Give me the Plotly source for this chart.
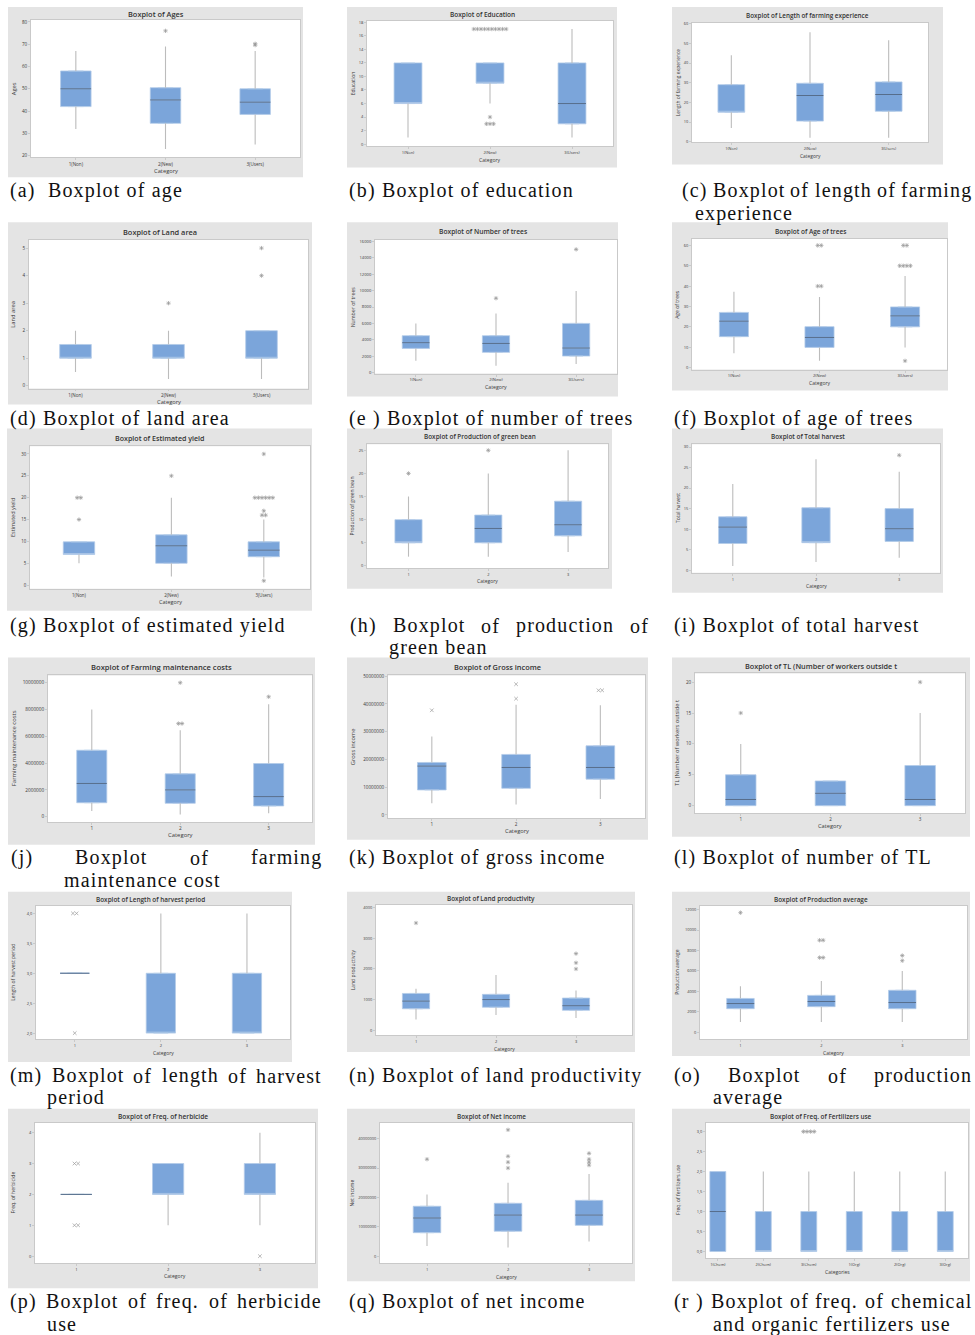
import plotly.graph_objects as go

W, H = 975, 1335

# ---------------- categories ----------------
cats_nnu = ["1(Non)", "2(New)", "3(Users)"]
cats_123 = ["1", "2", "3"]
cats_fert = ["1(Chem)", "2(Chem)", "3(Chem)", "1(Org)", "2(Org)", "3(Org)"]

# ---------------- data ----------------
# (a) Ages
age_low = [32, 23, 25]
age_q1 = [42, 34.5, 38.5]
age_med = [50, 45, 44]
age_q3 = [58, 50.5, 50]
age_high = [67, 69, 67]
age_out_cat = [2, 3, 3]
age_out_val = [76, 69.6, 70.2]
age_out_n = [1, 1, 1]
age_yticks = [20, 30, 40, 50, 60, 70, 80]

# (b) Education
edu_low = [1, 6, 1]
edu_q1 = [6, 9, 3]
edu_med = [None, None, 6]
edu_q3 = [12, 12, 12]
edu_high = [12, 12, 17]
edu_out_cat = [2, 2, 2]
edu_out_val = [17, 4, 3]
edu_out_n = [10, 1, 3]
edu_yticks = [0, 2, 4, 6, 8, 10, 12, 14, 16, 18]

# (c) Length of farming experience
exp_low = [7, 2, 2]
exp_q1 = [15, 10.5, 15.5]
exp_med = [None, 23.5, 24]
exp_q3 = [29, 29.7, 30.4]
exp_high = [44, 55.6, 51.6]
exp_out_cat = []
exp_out_val = []
exp_out_n = []
exp_yticks = [0, 10, 20, 30, 40, 50, 60]

# (d) Land area
land_low = [0.5, 0.25, 0.25]
land_q1 = [1, 1, 1]
land_med = [None, None, None]
land_q3 = [1.5, 1.5, 2]
land_high = [2, 2, 2]
land_out_cat = [2, 3, 3]
land_out_val = [3, 4, 5]
land_out_n = [1, 1, 1]
land_yticks = [0, 1, 2, 3, 4, 5]

# (e) Number of trees
tree_low = [1450, 850, 1050]
tree_q1 = [2950, 2470, 2020]
tree_med = [3650, 3560, 3000]
tree_q3 = [4500, 4500, 6000]
tree_high = [6000, 7200, 9960]
tree_out_cat = [2, 3]
tree_out_val = [9070, 15030]
tree_out_n = [1, 1]
tree_yticks = [0, 2000, 4000, 6000, 8000, 10000, 12000, 14000, 16000]

# (f) Age of trees
agt_low = [7, 3.4, 9.9]
agt_q1 = [15.2, 9.9, 20]
agt_med = [22.8, 14.8, 25.4]
agt_q3 = [27.1, 20.1, 29.8]
agt_high = [37.2, 34.7, 45]
agt_out_cat = [2, 2, 3, 3, 3]
agt_out_val = [40, 60, 50, 60, 3.3]
agt_out_n = [2, 2, 4, 2, 1]
agt_yticks = [0, 10, 20, 30, 40, 50, 60]

# (g) Estimated yield
yld_low = [5, 2, 1.75]
yld_q1 = [7, 5, 6.5]
yld_med = [None, 9, 8]
yld_q3 = [9.9, 11.5, 9.9]
yld_high = [7, 20, 15]
yld_out_cat = [1, 1, 2, 3, 3, 3, 3, 3]
yld_out_val = [15, 20, 25, 1, 16, 17, 20, 30]
yld_out_n = [1, 2, 1, 1, 2, 1, 6, 1]
yld_yticks = [0, 5, 10, 15, 20, 25, 30]

# (h) Production of green bean
gb_low = [2, 2, 3]
gb_q1 = [5, 5, 6.5]
gb_med = [None, 8.1, 8.9]
gb_q3 = [10, 11, 14]
gb_high = [15, 20, 25]
gb_out_cat = [1, 2]
gb_out_val = [20, 25]
gb_out_n = [1, 1]
gb_yticks = [0, 5, 10, 15, 20, 25]

# (i) Total harvest
th_low = [1, 2, 3]
th_q1 = [6.5, 6.7, 7]
th_med = [10.5, None, 10.1]
th_q3 = [13, 15.2, 15]
th_high = [21, 27, 24]
th_out_cat = [3]
th_out_val = [28]
th_out_n = [1]
th_yticks = [0, 5, 10, 15, 20, 25, 30]

# (j) Farming maintenance costs
fmc_low = [420000, 170000, 250000]
fmc_q1 = [1040000, 1000000, 800000]
fmc_med = [2480000, 2000000, 1500000]
fmc_q3 = [4960000, 3200000, 3970000]
fmc_high = [8000000, 6450000, 8400000]
fmc_out_cat = [2, 2, 3]
fmc_out_val = [10000000, 6950000, 8950000]
fmc_out_n = [1, 2, 1]
fmc_yticks = [0, 2000000, 4000000, 6000000, 8000000, 10000000]

# (k) Gross income
gi_low = [4200000, 3800000, 5700000]
gi_q1 = [9000000, 9600000, 12900000]
gi_med = [17600000, 17100000, 17100000]
gi_q3 = [18900000, 21800000, 24900000]
gi_high = [28300000, 39700000, 39500000]
gi_out_cat = [1, 2, 2, 3]
gi_out_val = [37700000, 41900000, 47100000, 44900000]
gi_out_n = [1, 1, 1, 2]
gi_yticks = [0, 10000000, 20000000, 30000000, 40000000, 50000000]

# (l) TL (number of workers outside)
tl_low = [0, 0, 0]
tl_q1 = [0, 0, 0]
tl_med = [1, 2, 1]
tl_q3 = [5, 4, 6.5]
tl_high = [10, 4, 15]
tl_out_cat = [1, 3]
tl_out_val = [15, 20]
tl_out_n = [1, 1]
tl_yticks = [0, 5, 10, 15, 20]

# (m) Length of harvest period
hp_low = [3, 2, 2]
hp_q1 = [3, 2, 2]
hp_med = [3, None, None]
hp_q3 = [3, 3, 3]
hp_high = [3, 4, 4]
hp_out_cat = [1, 1]
hp_out_val = [4, 2]
hp_out_n = [2, 1]
hp_yticks = [2.0, 2.5, 3.0, 3.5, 4.0]
hp_yticklabels = ["2,0", "2,5", "3,0", "3,5", "4,0"]

# (n) Land productivity
lp_low = [350, 500, 400]
lp_q1 = [700, 750, 650]
lp_med = [950, 1000, 800]
lp_q3 = [1200, 1170, 1050]
lp_high = [1350, 1800, 1300]
lp_out_cat = [1, 3, 3, 3]
lp_out_val = [3500, 2000, 2200, 2500]
lp_out_n = [1, 1, 1, 1]
lp_yticks = [0, 1000, 2000, 3000, 4000]

# (o) Production average
pa_low = [1000, 1000, 1000]
pa_q1 = [2300, 2500, 2300]
pa_med = [2800, 3000, 2900]
pa_q3 = [3300, 3600, 4100]
pa_high = [4500, 5000, 6000]
pa_out_cat = [1, 2, 2, 3, 3]
pa_out_val = [11700, 7300, 9000, 7000, 7500]
pa_out_n = [1, 2, 2, 1, 1]
pa_yticks = [0, 2000, 4000, 6000, 8000, 10000, 12000]

# (p) Freq. of herbicide
hb_low = [2, 1, 1]
hb_q1 = [2, 2, 2]
hb_med = [2, None, None]
hb_q3 = [2, 3, 3]
hb_high = [2, 3, 4]
hb_out_cat = [1, 1, 3]
hb_out_val = [3, 1, 0]
hb_out_n = [2, 2, 1]
hb_yticks = [0, 1, 2, 3, 4]

# (q) Net income
ni_low = [3500000, 3000000, 5000000]
ni_q1 = [8000000, 8500000, 10500000]
ni_med = [13000000, 14000000, 14000000]
ni_q3 = [17000000, 18000000, 19000000]
ni_high = [21000000, 25000000, 28000000]
ni_out_cat = [1, 2, 2, 2, 2, 3, 3, 3, 3]
ni_out_val = [33000000, 30000000, 32000000, 34000000, 43000000, 31000000, 32000000, 33000000, 35000000]
ni_out_n = [1, 1, 1, 1, 1, 1, 1, 1, 1]
ni_yticks = [0, 10000000, 20000000, 30000000, 40000000]

# (r) Freq. of chemical and organic fertilizers use
fz_low = [0, 0, 0, 0, 0, 0]
fz_q1 = [0, 0, 0, 0, 0, 0]
fz_med = [1, None, None, None, None, None]
fz_q3 = [2, 1, 1, 1, 1, 1]
fz_high = [2, 2, 2, 2, 2, 2]
fz_out_cat = [3]
fz_out_val = [3]
fz_out_n = [4]
fz_yticks = [0, 0.5, 1.0, 1.5, 2.0, 2.5, 3.0]
fz_yticklabels = ["0,0", "0,5", "1,0", "1,5", "2,0", "2,5", "3,0"]

# ---------------- panel text ----------------
panels = [
    dict(key="a", title="Boxplot of Ages", ytitle="Ages", xtitle="Category", cats=cats_nnu,
         low=age_low, q1=age_q1, med=age_med, q3=age_q3, high=age_high,
         oc=age_out_cat, ov=age_out_val, on=age_out_n, yt=age_yticks, ytl=None, sym="asterisk-open"),
    dict(key="b", title="Boxplot of Education", ytitle="Education", xtitle="Category", cats=cats_nnu,
         low=edu_low, q1=edu_q1, med=edu_med, q3=edu_q3, high=edu_high,
         oc=edu_out_cat, ov=edu_out_val, on=edu_out_n, yt=edu_yticks, ytl=None, sym="asterisk-open"),
    dict(key="c", title="Boxplot of Length of farming experience", ytitle="Length of farming experience",
         xtitle="Category", cats=cats_nnu,
         low=exp_low, q1=exp_q1, med=exp_med, q3=exp_q3, high=exp_high,
         oc=exp_out_cat, ov=exp_out_val, on=exp_out_n, yt=exp_yticks, ytl=None, sym="asterisk-open"),
    dict(key="d", title="Boxplot of Land area", ytitle="Land area", xtitle="Category", cats=cats_nnu,
         low=land_low, q1=land_q1, med=land_med, q3=land_q3, high=land_high,
         oc=land_out_cat, ov=land_out_val, on=land_out_n, yt=land_yticks, ytl=None, sym="asterisk-open"),
    dict(key="e", title="Boxplot of Number of trees", ytitle="Number of trees", xtitle="Category", cats=cats_nnu,
         low=tree_low, q1=tree_q1, med=tree_med, q3=tree_q3, high=tree_high,
         oc=tree_out_cat, ov=tree_out_val, on=tree_out_n, yt=tree_yticks, ytl=None, sym="asterisk-open"),
    dict(key="f", title="Boxplot of Age of trees", ytitle="Age of trees", xtitle="Category", cats=cats_nnu,
         low=agt_low, q1=agt_q1, med=agt_med, q3=agt_q3, high=agt_high,
         oc=agt_out_cat, ov=agt_out_val, on=agt_out_n, yt=agt_yticks, ytl=None, sym="asterisk-open"),
    dict(key="g", title="Boxplot of Estimated yield", ytitle="Estimated yield", xtitle="Category", cats=cats_nnu,
         low=yld_low, q1=yld_q1, med=yld_med, q3=yld_q3, high=yld_high,
         oc=yld_out_cat, ov=yld_out_val, on=yld_out_n, yt=yld_yticks, ytl=None, sym="asterisk-open"),
    dict(key="h", title="Boxplot of Production of green bean", ytitle="Production of green bean",
         xtitle="Category", cats=cats_123,
         low=gb_low, q1=gb_q1, med=gb_med, q3=gb_q3, high=gb_high,
         oc=gb_out_cat, ov=gb_out_val, on=gb_out_n, yt=gb_yticks, ytl=None, sym="asterisk-open"),
    dict(key="i", title="Boxplot of Total harvest", ytitle="Total harvest", xtitle="Category", cats=cats_123,
         low=th_low, q1=th_q1, med=th_med, q3=th_q3, high=th_high,
         oc=th_out_cat, ov=th_out_val, on=th_out_n, yt=th_yticks, ytl=None, sym="asterisk-open"),
    dict(key="j", title="Boxplot of Farming maintenance costs", ytitle="Farming maintenance costs",
         xtitle="Category", cats=cats_123,
         low=fmc_low, q1=fmc_q1, med=fmc_med, q3=fmc_q3, high=fmc_high,
         oc=fmc_out_cat, ov=fmc_out_val, on=fmc_out_n, yt=fmc_yticks, ytl=None, sym="asterisk-open"),
    dict(key="k", title="Boxplot of Gross income", ytitle="Gross income", xtitle="Category", cats=cats_123,
         low=gi_low, q1=gi_q1, med=gi_med, q3=gi_q3, high=gi_high,
         oc=gi_out_cat, ov=gi_out_val, on=gi_out_n, yt=gi_yticks, ytl=None, sym="x-thin-open"),
    dict(key="l", title="Boxplot of TL (Number of workers outside t", ytitle="TL (Number of workers outside t",
         xtitle="Category", cats=cats_123,
         low=tl_low, q1=tl_q1, med=tl_med, q3=tl_q3, high=tl_high,
         oc=tl_out_cat, ov=tl_out_val, on=tl_out_n, yt=tl_yticks, ytl=None, sym="asterisk-open"),
    dict(key="m", title="Boxplot of Length of harvest period", ytitle="Length of harvest period",
         xtitle="Category", cats=cats_123,
         low=hp_low, q1=hp_q1, med=hp_med, q3=hp_q3, high=hp_high,
         oc=hp_out_cat, ov=hp_out_val, on=hp_out_n, yt=hp_yticks, ytl=hp_yticklabels, sym="x-thin-open"),
    dict(key="n", title="Boxplot of Land productivity", ytitle="Land productivity", xtitle="Category", cats=cats_123,
         low=lp_low, q1=lp_q1, med=lp_med, q3=lp_q3, high=lp_high,
         oc=lp_out_cat, ov=lp_out_val, on=lp_out_n, yt=lp_yticks, ytl=None, sym="asterisk-open"),
    dict(key="o", title="Boxplot of Production average", ytitle="Production average", xtitle="Category",
         cats=cats_123,
         low=pa_low, q1=pa_q1, med=pa_med, q3=pa_q3, high=pa_high,
         oc=pa_out_cat, ov=pa_out_val, on=pa_out_n, yt=pa_yticks, ytl=None, sym="asterisk-open"),
    dict(key="p", title="Boxplot of Freq. of herbicide", ytitle="Freq. of herbicide", xtitle="Category",
         cats=cats_123,
         low=hb_low, q1=hb_q1, med=hb_med, q3=hb_q3, high=hb_high,
         oc=hb_out_cat, ov=hb_out_val, on=hb_out_n, yt=hb_yticks, ytl=None, sym="x-thin-open"),
    dict(key="q", title="Boxplot of Net income", ytitle="Net income", xtitle="Category", cats=cats_123,
         low=ni_low, q1=ni_q1, med=ni_med, q3=ni_q3, high=ni_high,
         oc=ni_out_cat, ov=ni_out_val, on=ni_out_n, yt=ni_yticks, ytl=None, sym="asterisk-open"),
    dict(key="r", title="Boxplot of Freq. of Fertilizers use", ytitle="Freq. of fertilizers use",
         xtitle="Categories", cats=cats_fert,
         low=fz_low, q1=fz_q1, med=fz_med, q3=fz_q3, high=fz_high,
         oc=fz_out_cat, ov=fz_out_val, on=fz_out_n, yt=fz_yticks, ytl=fz_yticklabels, sym="asterisk-open"),
]

# ---------------- geometry (pixels) : frame, plot area, x range, y range, font size ----------------
GEOM = {
    "a": dict(frame=(8, 4, 303, 175), plot=(31, 17, 300, 155), xr=[0.5, 3.5], yr=[19.2, 80.9], fs=7.4),
    "b": dict(frame=(347, 4, 617, 165), plot=(367, 18, 613, 144), xr=[0.5, 3.5], yr=[-0.34, 18.2], fs=6.5),
    "c": dict(frame=(672, 4, 943, 162), plot=(692, 20, 928, 140), xr=[0.5, 3.5], yr=[-0.35, 60.35], fs=6.3),
    "d": dict(frame=(8, 220, 312, 403), plot=(29, 238, 308, 387), xr=[0.5, 3.5], yr=[-0.1, 5.29], fs=7.4),
    "e": dict(frame=(347, 220, 618, 395), plot=(375, 238, 617, 372), xr=[0.49, 3.51], yr=[-120, 16160], fs=6.7),
    "f": dict(frame=(672, 220, 948, 389), plot=(692, 237, 947, 368), xr=[0.51, 3.49], yr=[-1, 63.1], fs=6.5),
    "g": dict(frame=(7, 427, 312, 610), plot=(30, 445, 310, 588), xr=[0.47, 3.5], yr=[-0.84, 31.75], fs=7.1),
    "h": dict(frame=(347, 427, 612, 588), plot=(367, 443, 608, 567), xr=[0.48, 3.5], yr=[-0.43, 26.3], fs=6.4),
    "i": dict(frame=(672, 427, 943, 592), plot=(692, 443, 940, 572), xr=[0.51, 3.49], yr=[-0.65, 30.65], fs=6.4),
    "j": dict(frame=(8, 657, 315, 845), plot=(48, 675, 312, 822), xr=[0.505, 3.49], yr=[-390000, 10540000], fs=7.6),
    "k": dict(frame=(347, 657, 648, 840), plot=(388, 675, 645, 818), xr=[0.48, 3.53], yr=[-1080000, 50250000], fs=7.4),
    "l": dict(frame=(672, 657, 970, 837), plot=(695, 673, 965, 813), xr=[0.49, 3.5], yr=[-1.18, 21.4], fs=7.3),
    "m": dict(frame=(8, 892, 292, 1063), plot=(36, 906, 290, 1040), xr=[0.55, 3.5], yr=[1.9, 4.13], fs=6.4),
    "n": dict(frame=(347, 892, 635, 1053), plot=(376, 905, 632, 1036), xr=[0.5, 3.7], yr=[-160, 4100], fs=6.4),
    "o": dict(frame=(672, 892, 970, 1057), plot=(700, 906, 967, 1040), xr=[0.5, 3.8], yr=[-680, 12390], fs=6.4),
    "p": dict(frame=(8, 1110, 318, 1290), plot=(35, 1124, 315, 1265), xr=[0.55, 3.6], yr=[-0.23, 4.32], fs=6.6),
    "q": dict(frame=(347, 1110, 635, 1283), plot=(380, 1124, 632, 1265), xr=[0.42, 3.53], yr=[-2400000, 45400000], fs=6.4),
    "r": dict(frame=(672, 1110, 970, 1283), plot=(706, 1124, 968, 1260), xr=[0.74, 6.5], yr=[-0.17, 3.22], fs=6.4),
}
BOX_W = {"r": 0.35}

# ---------------- captions ----------------
CAP_FS = 20
CAP_LS = 1.15
captions = [
    [("(a)\u00a0\u00a0Boxplot of age", 8, None, 188)],
    [("(b) Boxplot of education", 347, None, 188)],
    [(["(c)", "Boxplot", "of", "length", "of", "farming"], 680, 970, 188), ("experience", 693, None, 211)],
    [("(d) Boxplot of land area", 8, None, 417)],
    [("(e ) Boxplot of number of trees", 347, None, 417)],
    [("(f) Boxplot of age of trees", 672, None, 417)],
    [("(g) Boxplot of estimated yield", 8, None, 625)],
    [(["(h)", "Boxplot", "of", "production", "of"], 348, 647, 625), ("green bean", 387, None, 647)],
    [("(i) Boxplot of total harvest", 672, None, 625)],
    [(["(j)", "Boxplot", "of", "farming"], 9, 320, 858), ("maintenance cost", 62, None, 880)],
    [("(k) Boxplot of gross income", 347, None, 858)],
    [("(l) Boxplot of number of TL", 672, None, 858)],
    [(["(m)", "Boxplot", "of", "length", "of", "harvest"], 8, 320, 1077), ("period", 45, None, 1099)],
    [("(n) Boxplot of land productivity", 347, None, 1077)],
    [(["(o)", "Boxplot", "of", "production"], 672, 970, 1077), ("average", 711, None, 1099)],
    [(["(p)", "Boxplot", "of", "freq.", "of", "herbicide"], 8, 320, 1303), ("use", 45, None, 1326)],
    [("(q) Boxplot of net income", 347, None, 1303)],
    [(["(r", ")", "Boxplot", "of", "freq.", "of", "chemical"], 672, 970, 1303),
     ("and organic fertilizers use", 711, None, 1326)],
]

TW = dict(a=444, b=500, c=444, d=500, e=444, f=333, g=500, h=500, i=278, j=278, k=500, l=278, m=778,
          n=500, o=500, p=500, q=500, r=333, s=389, t=278, u=500, v=500, w=722, x=500, y=500, z=444)
TW.update({"B": 667, "T": 611, "L": 611, "(": 333, ")": 333, ".": 250, " ": 250, "\u00a0": 250})


def text_w(s):
    return sum(TW.get(c, 500) for c in s) * CAP_FS / 1000 + len(s) * CAP_LS


# ---------------- style ----------------
SANS = "Open Sans"
SERIF = "Liberation Serif, Times New Roman, serif"
FRAME_BG = "#e4e4e4"
BOX_FILL = "#7ba5da"
BOX_EDGE = "#b4cbe9"
MED_COL = "#4d6380"
WHISK = "#bcbcbc"
OUTL = "#9a9a9a"
AXC = "#c9c9c9"
TXT = "#3a3a3a"


def px(x):
    return x / W


def py(y):
    return 1 - y / H


fig = go.Figure()
shapes = []
annotations = []
layout = {}

for k, P in enumerate(panels, start=1):
    G = GEOM[P["key"]]
    fx0, fy0, fx1, fy1 = G["frame"]
    ax0, ay0, ax1, ay1 = G["plot"]
    fs = G["fs"]
    xa = "x" if k == 1 else f"x{k}"
    ya = "y" if k == 1 else f"y{k}"
    xname = "xaxis" if k == 1 else f"xaxis{k}"
    yname = "yaxis" if k == 1 else f"yaxis{k}"
    n = len(P["cats"])
    pos = list(range(1, n + 1))
    bw = BOX_W.get(P["key"], 0.34)

    shapes.append(dict(type="rect", xref="paper", yref="paper", x0=px(fx0), x1=px(fx1), y0=py(fy1), y1=py(fy0),
                       fillcolor=FRAME_BG, line=dict(width=0), layer="below"))
    shapes.append(dict(type="rect", xref="paper", yref="paper", x0=px(ax0), x1=px(ax1), y0=py(ay1), y1=py(ay0),
                       fillcolor="white", line=dict(width=0), layer="below"))

    wx, wy = [], []
    for p_, lo, a, b, hi in zip(pos, P["low"], P["q1"], P["q3"], P["high"]):
        if lo < a:
            wx += [p_, p_, None]
            wy += [lo, a, None]
        if hi > b:
            wx += [p_, p_, None]
            wy += [b, hi, None]
    fig.add_trace(go.Scatter(x=wx, y=wy, mode="lines", line=dict(color=WHISK, width=1.1),
                             xaxis=xa, yaxis=ya, showlegend=False, hoverinfo="skip"))

    med_box = [m if m is not None else a for m, a in zip(P["med"], P["q1"])]
    fig.add_trace(go.Box(x=pos, q1=P["q1"], median=med_box, q3=P["q3"], lowerfence=P["q1"],
                         upperfence=P["q3"], width=bw, fillcolor=BOX_FILL,
                         line=dict(color=BOX_EDGE, width=0.8), boxpoints=False,
                         xaxis=xa, yaxis=ya, showlegend=False, hoverinfo="skip"))

    mx, my = [], []
    for p_, m in zip(pos, P["med"]):
        if m is not None:
            mx += [p_ - bw / 2, p_ + bw / 2, None]
            my += [m, m, None]
    if mx:
        fig.add_trace(go.Scatter(x=mx, y=my, mode="lines", line=dict(color=MED_COL, width=0.9),
                                 xaxis=xa, yaxis=ya, showlegend=False, hoverinfo="skip"))

    unit_px = (ax1 - ax0) / (G["xr"][1] - G["xr"][0])
    dx = 3.6 / unit_px
    ox, oy = [], []
    for c, v, cnt in zip(P["oc"], P["ov"], P["on"]):
        for j in range(cnt):
            ox.append(c + (j - (cnt - 1) / 2) * dx)
            oy.append(v)
    if ox:
        fig.add_trace(go.Scatter(x=ox, y=oy, mode="markers",
                                 marker=dict(symbol=P["sym"], size=3.6, color=OUTL,
                                             line=dict(color=OUTL, width=0.7)),
                                 xaxis=xa, yaxis=ya, showlegend=False, hoverinfo="skip"))

    tickfont = dict(size=fs * 0.62, color=TXT, family=SANS)
    layout[xname] = dict(domain=[px(ax0), px(ax1)], anchor=ya, range=G["xr"], tickvals=pos,
                         ticktext=P["cats"], showline=True, mirror=True, linecolor=AXC, linewidth=0.8,
                         ticks="outside", ticklen=2, tickcolor=AXC, tickwidth=0.6, tickfont=tickfont,
                         showgrid=False, zeroline=False, fixedrange=True)
    ytl = P["ytl"] if P["ytl"] is not None else [str(v) for v in P["yt"]]
    layout[yname] = dict(domain=[py(ay1), py(ay0)], anchor=xa, range=G["yr"], tickvals=P["yt"],
                         ticktext=ytl, showline=True, mirror=True, linecolor=AXC, linewidth=0.8,
                         ticks="outside", ticklen=2, tickcolor=AXC, tickwidth=0.6, tickfont=tickfont,
                         showgrid=False, zeroline=False, fixedrange=True)

    annotations.append(dict(text=P["title"], x=px((fx0 + fx1) / 2), y=py((fy0 + ay0) / 2 + 0.5),
                            xref="paper", yref="paper", showarrow=False, xanchor="center", yanchor="middle",
                            font=dict(size=fs, color="#333333", family=SANS, weight=600)))
    annotations.append(dict(text=P["xtitle"], x=px((ax0 + ax1) / 2), y=py(ay1 + 13.5),
                            xref="paper", yref="paper", showarrow=False, xanchor="center", yanchor="middle",
                            font=dict(size=fs * 0.78, color=TXT, family=SANS)))
    annotations.append(dict(text=P["ytitle"], x=px(fx0 + 5.5), y=py((ay0 + ay1) / 2),
                            xref="paper", yref="paper", showarrow=False, xanchor="center", yanchor="middle",
                            textangle=-90, font=dict(size=fs * 0.78, color=TXT, family=SANS)))

for cap in captions:
    for words, x0, x1, y in cap:
        if x1 is None:
            items = [(words, x0)]
        else:
            widths = [text_w(w) for w in words]
            gap = (x1 - x0 - sum(widths)) / (len(words) - 1)
            items = []
            xx = x0
            for w, wd in zip(words, widths):
                items.append((w, xx))
                xx += wd + gap
        for t, xx in items:
            annotations.append(dict(text=f'<span style="letter-spacing:{CAP_LS}px">{t}</span>',
                                    x=px(xx), y=py(y), xref="paper", yref="paper", showarrow=False,
                                    xanchor="left", yanchor="middle",
                                    font=dict(size=CAP_FS, color="#111111", family=SERIF)))

fig.update_layout(width=W, height=H, autosize=False, margin=dict(l=0, r=0, t=0, b=0, pad=0),
                  paper_bgcolor="white", plot_bgcolor="rgba(0,0,0,0)", shapes=shapes,
                  annotations=annotations, showlegend=False, **layout)

fig.write_html("out.html", config={"displayModeBar": False},
               post_script="document.body.style.margin='0';document.body.style.overflow='hidden';")
